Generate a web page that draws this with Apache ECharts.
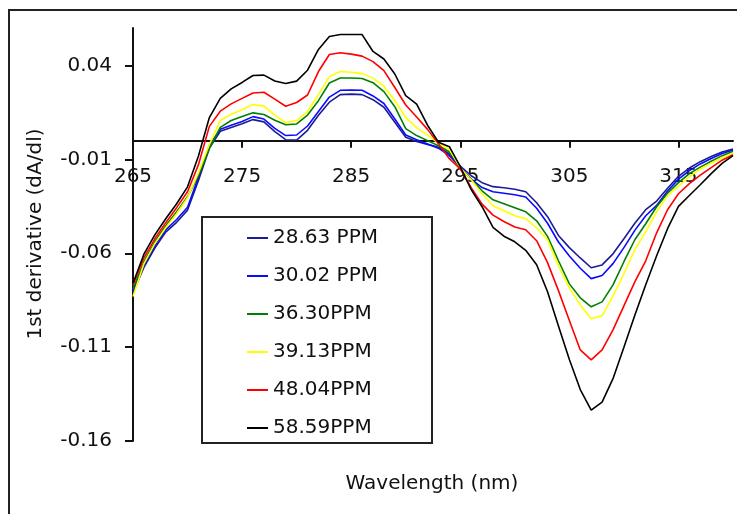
<!DOCTYPE html>
<html>
<head>
<meta charset="utf-8">
<script src="https://cdn.jsdelivr.net/npm/echarts@6/dist/echarts.min.js"></script>
<style>
html,body{margin:0;padding:0;background:#fff;}
#chart{width:737px;height:514px;}
</style>
</head>
<body>
<div id="chart"></div>
<script>
const wavelengths = [265,266,267,268,269,270,271,272,273,274,275,276,277,278,279,280,281,282,283,284,285,286,287,288,289,290,291,292,293,294,295,296,297,298,299,300,301,302,303,304,305,306,307,308,309,310,311,312,313,314,315,316,317,318,319,320];

const s2863 = [-0.081,-0.0675,-0.0572,-0.0487,-0.0435,-0.0370,-0.0212,-0.0040,0.0050,0.0070,0.0090,0.0112,0.0100,0.0048,0.0005,0.0003,0.0055,0.0135,0.0205,0.0245,0.0248,0.0245,0.0218,0.0178,0.0098,0.0018,-0.0005,-0.0020,-0.0035,-0.0070,-0.0135,-0.0187,-0.0224,-0.0245,-0.0251,-0.0259,-0.0272,-0.0331,-0.0405,-0.0505,-0.0570,-0.0625,-0.0677,-0.0662,-0.0603,-0.0523,-0.0440,-0.0368,-0.0322,-0.0254,-0.0190,-0.0146,-0.0112,-0.0085,-0.0060,-0.0045];
const s3002 = [-0.080,-0.0660,-0.0560,-0.0475,-0.0420,-0.0355,-0.0195,-0.0025,0.0060,0.0082,0.0102,0.0128,0.0115,0.0065,0.0027,0.0030,0.0078,0.0155,0.0232,0.0268,0.0270,0.0268,0.0238,0.0198,0.0115,0.0030,0.0005,-0.0018,-0.0040,-0.0080,-0.0140,-0.0205,-0.0250,-0.0272,-0.0280,-0.0288,-0.0300,-0.0360,-0.0440,-0.0540,-0.0615,-0.0680,-0.0735,-0.0718,-0.0655,-0.0570,-0.0478,-0.0400,-0.0345,-0.0268,-0.0205,-0.0160,-0.0124,-0.0095,-0.0068,-0.0050];
const s3630 = [-0.079,-0.0645,-0.0539,-0.0453,-0.0379,-0.0299,-0.0187,-0.0043,0.0071,0.0107,0.0128,0.0148,0.0139,0.0109,0.0085,0.0089,0.0136,0.0213,0.0307,0.0334,0.0334,0.0331,0.0309,0.0261,0.0181,0.0064,0.0027,0.0000,-0.0027,-0.0059,-0.0144,-0.0208,-0.0267,-0.0315,-0.0336,-0.0357,-0.0379,-0.0427,-0.0510,-0.0640,-0.0763,-0.0837,-0.0885,-0.0859,-0.0768,-0.0645,-0.0528,-0.0443,-0.0352,-0.0280,-0.0224,-0.0176,-0.0141,-0.0110,-0.0080,-0.0056];
const s3913 = [-0.083,-0.0656,-0.0549,-0.0464,-0.0389,-0.0304,-0.0171,-0.0021,0.0107,0.0141,0.0165,0.0192,0.0184,0.0136,0.0096,0.0107,0.0155,0.0245,0.0341,0.0368,0.0364,0.0357,0.0333,0.0290,0.0213,0.0123,0.0069,0.0029,-0.0013,-0.0048,-0.0144,-0.0208,-0.0283,-0.0347,-0.0373,-0.0400,-0.0416,-0.0464,-0.0528,-0.0667,-0.0784,-0.0875,-0.0949,-0.0933,-0.0827,-0.0709,-0.0581,-0.0485,-0.0379,-0.0293,-0.0243,-0.0192,-0.0151,-0.0120,-0.0093,-0.0067];
const s4804 = [-0.077,-0.0624,-0.0523,-0.0437,-0.0357,-0.0272,-0.0128,0.0076,0.0157,0.0196,0.0225,0.0254,0.0258,0.0221,0.0183,0.0203,0.0243,0.0368,0.0459,0.0468,0.0461,0.0450,0.0421,0.0373,0.0283,0.0190,0.0126,0.0060,-0.0016,-0.0096,-0.0150,-0.0251,-0.0338,-0.0397,-0.0431,-0.0460,-0.0475,-0.0533,-0.0650,-0.0799,-0.0958,-0.1115,-0.1168,-0.1115,-0.1008,-0.0880,-0.0752,-0.0640,-0.0491,-0.0368,-0.0283,-0.0229,-0.0184,-0.0144,-0.0104,-0.0075];
const s5859 = [-0.076,-0.0605,-0.0502,-0.0416,-0.0336,-0.0246,-0.0082,0.0123,0.0225,0.0276,0.0310,0.0347,0.0349,0.0318,0.0304,0.0317,0.0375,0.0486,0.0555,0.0565,0.0565,0.0565,0.0475,0.0435,0.0355,0.0240,0.0194,0.0082,-0.0008,-0.0032,-0.0139,-0.0261,-0.0352,-0.0462,-0.0509,-0.0539,-0.0584,-0.0661,-0.0805,-0.0987,-0.1166,-0.1326,-0.1435,-0.1393,-0.1268,-0.1101,-0.0930,-0.0768,-0.0613,-0.0469,-0.0350,-0.0292,-0.0235,-0.0176,-0.0121,-0.0080];

const seriesNames = ['28.63 PPM','30.02 PPM','36.30PPM','39.13PPM','48.04PPM','58.59PPM'];
const seriesValues = [s2863, s3002, s3630, s3913, s4804, s5859];
const seriesColors = ['#1c1c96','#0a0aff','#008000','#ffff00','#ff0000','#000000'];

const xTicks = [265,275,285,295,305,315];
const yTicks = [-0.16,-0.11,-0.06,-0.01,0.04];

const FONT = 'DejaVu Sans';

const chart = echarts.init(document.getElementById('chart'), null, {renderer:'canvas'});

const series = seriesNames.map((name, i) => ({
  name: name,
  type: 'line',
  data: wavelengths.map((w, j) => [w, seriesValues[i][j]]),
  showSymbol: false,
  symbol: 'none',
  smooth: false,
  lineStyle: {color: seriesColors[i], width: 1.6},
  itemStyle: {color: seriesColors[i]},
  emphasis: {disabled: true},
  animation: false
}));

chart.setOption({
  animation: false,
  backgroundColor: '#ffffff',
  grid: {left: 133, right: 4, top: 28, bottom: 73},
  xAxis: {
    type: 'value',
    min: 265,
    max: 320,
    axisLine: {show: true, onZero: true, lineStyle: {color: '#111', width: 2}},
    axisTick: {show: true, length: 7, customValues: xTicks, lineStyle: {color: '#111', width: 2}},
    axisLabel: {customValues: xTicks, margin: -274, fontSize: 20, fontFamily: FONT, color: '#111'},
    splitLine: {show: false}
  },
  yAxis: {
    type: 'value',
    min: -0.16,
    max: 0.06,
    axisLine: {show: true, lineStyle: {color: '#111', width: 2}},
    axisTick: {show: true, length: 8, customValues: yTicks, lineStyle: {color: '#111', width: 2}},
    axisLabel: {customValues: yTicks, margin: 21, fontSize: 20, fontFamily: FONT, color: '#111',
      formatter: v => v.toFixed(2)},
    splitLine: {show: false}
  },
  legend: {
    orient: 'vertical',
    left: 242,
    top: 223,
    padding: 5,
    itemWidth: 21,
    itemHeight: 2,
    itemGap: 18,
    icon: 'rect',
    data: seriesNames,
    selectedMode: false,
    textStyle: {fontSize: 20, fontFamily: FONT, color: '#111', lineHeight: 20}
  },
  graphic: [
    {type: 'rect', shape: {x: 9, y: 10, width: 800, height: 600}, style: {fill: 'none', stroke: '#222', lineWidth: 2}, silent: true},
    {type: 'rect', shape: {x: 202, y: 217, width: 230, height: 226}, style: {fill: 'none', stroke: '#222', lineWidth: 2}, silent: true},
    {type: 'text', x: 36, y: 234, rotation: Math.PI / 2,
      style: {text: '1st derivative (dA/dl)', fontSize: 20, fontFamily: FONT, fill: '#111', align: 'center', verticalAlign: 'middle'}},
    {type: 'text', x: 432, y: 484,
      style: {text: 'Wavelength (nm)', fontSize: 20, fontFamily: FONT, fill: '#111', align: 'center', verticalAlign: 'middle'}}
  ],
  series: series
});
</script>
</body>
</html>
